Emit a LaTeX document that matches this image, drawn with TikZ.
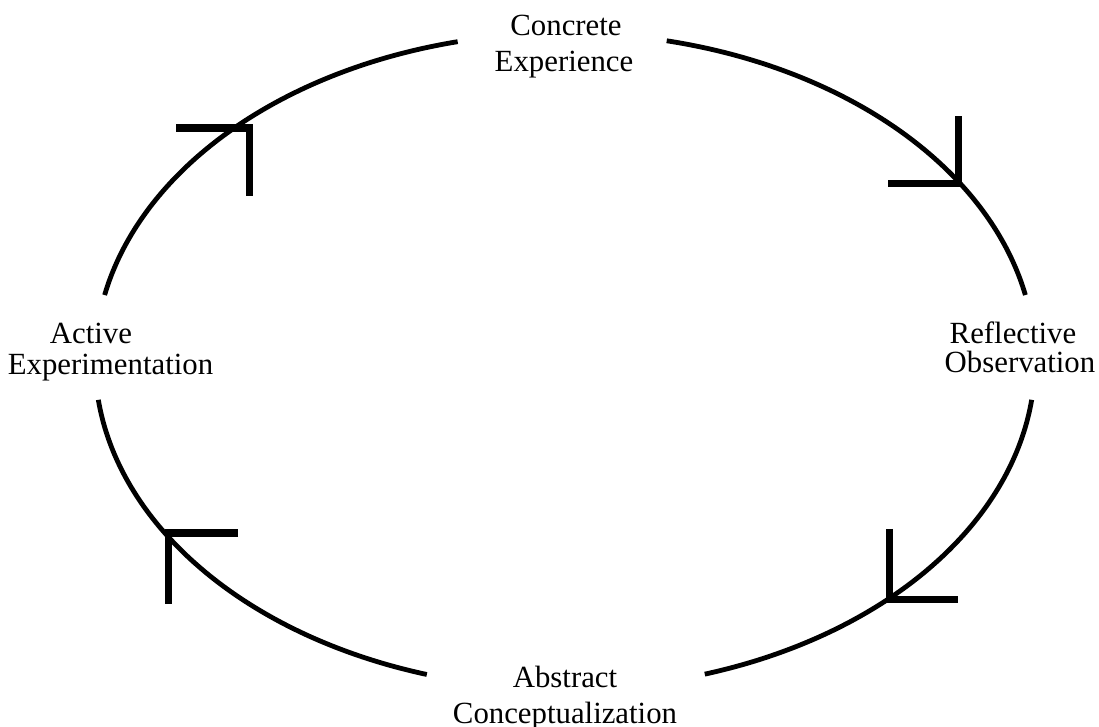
\documentclass[tikz,border=0pt]{standalone}
\usepackage{fontspec}
\setmainfont{Liberation Serif}
\begin{document}
\begin{tikzpicture}[x=0.5pt,y=-0.5pt,
  cycle/.style={line width=2.4pt},
  tipmark/.style={line width=3.75pt, line join=miter, line cap=butt},
  lbl/.style={font=\fontsize{15.4}{18}\selectfont, anchor=base, inner sep=0pt}]
\useasboundingbox (0,0) rectangle (1099,727);
% cycle arcs
\draw[cycle] plot[domain=-77.5:-11.6,samples=80,smooth] ({565+470*cos(\x)},{361+328*sin(\x)});
\draw[cycle] plot[domain=6.8:72.7,samples=80,smooth] ({565+470*cos(\x)},{361+328*sin(\x)});
\draw[cycle] plot[domain=107.1:173.2,samples=80,smooth] ({565+470*cos(\x)},{361+328*sin(\x)});
\draw[cycle] plot[domain=191.6:256.8,samples=80,smooth] ({565+470*cos(\x)},{361+328*sin(\x)});
% arrow marks
\draw[tipmark] (888,183.5) -- (958.5,183.5) -- (958.5,116);
\draw[tipmark] (889.5,529) -- (889.5,599.5) -- (958,599.5);
\draw[tipmark] (238,533) -- (168.5,533) -- (168.5,604);
\draw[tipmark] (176,128) -- (249.5,128) -- (249.5,196);
% labels
\node[lbl] (ce1) at (566,36) {Concrete};
\node[lbl] (ce2) at (564,72) {Experience};
\node[lbl] (ro1) at (1013,344) {Reflective};
\node[lbl] (ro2) at (1020,373) {Observation};
\node[lbl] (ac1) at (565,687) {Abstract};
\node[lbl] (ac2) at (565,723) {Conceptualization};
\node[lbl] (ae1) at (91,344) {Active};
\node[lbl] (ae2) at (110.5,375) {Experimentation};
\end{tikzpicture}
\end{document}
